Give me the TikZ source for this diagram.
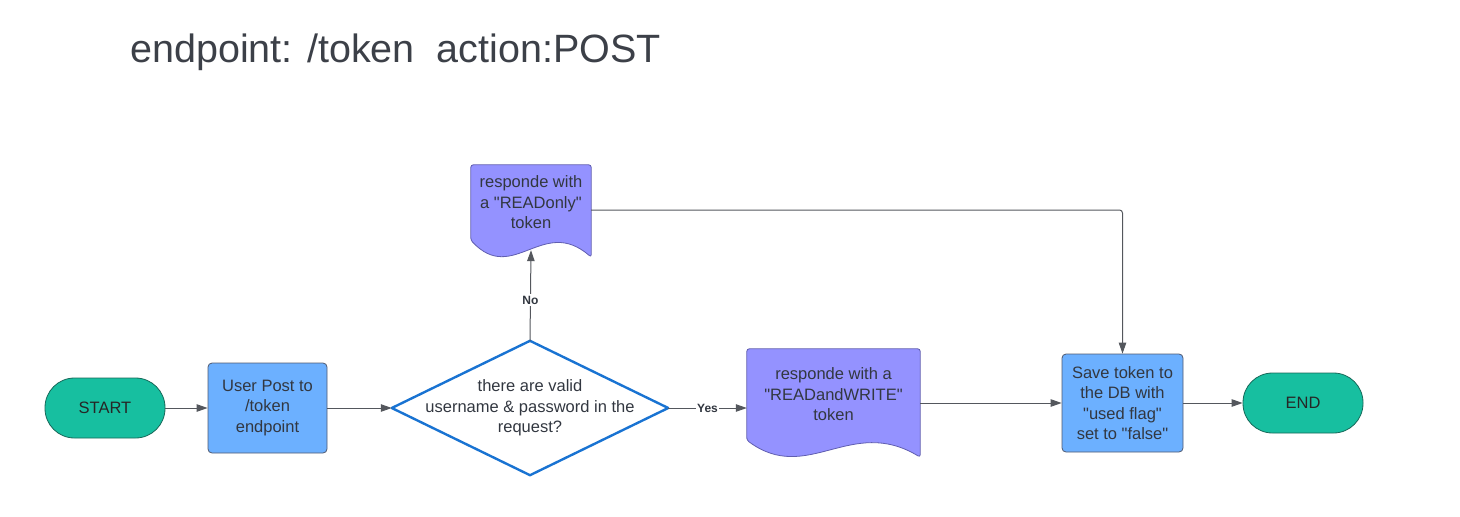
\documentclass[tikz,border=0pt]{standalone}
\usepackage{fontspec}
\setmainfont{Liberation Sans}
\newfontfamily\lsans{Liberation Sans}
\usepackage{xcolor}
\definecolor{tealfl}{RGB}{23, 191, 160}
\definecolor{tealdr}{RGB}{22, 104, 88}
\definecolor{bluefl}{RGB}{108, 176, 255}
\definecolor{bluedr}{RGB}{80, 90, 112}
\definecolor{docfl}{RGB}{148, 146, 255}
\definecolor{docdr}{RGB}{96, 94, 176}
\definecolor{diadr}{RGB}{25, 115, 210}
\definecolor{linecl}{RGB}{84, 87, 93}
\definecolor{txtcl}{RGB}{50, 55, 64}
\definecolor{titlecl}{RGB}{60, 64, 72}
\usepackage{tikz}
\usetikzlibrary{shapes, arrows, positioning, arrows.meta, calc, backgrounds}

\tikzset{
    term/.style={rectangle, rounded corners=29.5pt, fill=tealfl, draw=tealdr, line width=0.8pt,
        minimum width=120pt, minimum height=60pt, text=black!85},
    proc/.style={rectangle, rounded corners=4pt, fill=bluefl, draw=bluedr, line width=0.8pt,
        align=center, inner sep=0pt},
    docbox/.style={rectangle, align=center, inner sep=0pt},
    decision/.style={rectangle, align=center, inner sep=0pt,
        minimum width=276pt, minimum height=134pt},
    conn/.style={draw=linecl, line width=1pt, -{Triangle[length=11pt, width=7.5pt]}},
    lbl/.style={fill=white, inner sep=1.5pt, font=\lsans\bfseries\fontsize{12}{14}\selectfont},
}

% document shape: flat top, wavy bottom
\newcommand{\docshape}[1]{%
    \filldraw[fill=docfl, draw=docdr, line width=0.8pt, rounded corners=2.5pt]
        (#1.south west) -- (#1.north west) -- (#1.north east) -- ($(#1.south east)+(0,17)$)
        .. controls ($(#1.south west)!0.6!(#1.south east)+(0,-25)$)
        and ($(#1.south west)!0.35!(#1.south east)+(0,45)$) .. (#1.south west) -- cycle;}

\begin{document}
\begin{tikzpicture}[x=1pt, y=-1pt, font=\lsans\fontsize{16.5}{20.5}\selectfont, text=txtcl]
    \useasboundingbox (0,0) rectangle (1460,517);

    % Title
    \node[anchor=base west, inner sep=0pt, text=titlecl, font=\lsans\fontsize{39.5}{44}\selectfont]
        (title) at (130,62) {endpoint: /token\ \ action:POST};

    % Flow
    \node[term] (start) at (105,408) {START};
    \node[proc, minimum width=119pt, minimum height=90pt] (post) at (267.5,408) {User Post to\\/token\\endpoint};
    \node[decision] (chk) at (530,408) {there are valid\\username \& password in the\\request?};
    \node[docbox, minimum width=120pt, minimum height=75pt] (ro) at (531,202.5) {responde with\\a "READonly"\\token};
    \node[docbox, minimum width=173pt, minimum height=91pt] (rw) at (833.5,394.5) {responde with a\\"READandWRITE"\\token};
    \node[proc, minimum width=121pt, minimum height=98pt] (save) at (1122.5,403) {Save token to\\the DB with\\"used flag"\\set to "false"};
    \node[term] (end) at (1303,403) {END};

    \begin{scope}[on background layer]
        \docshape{ro}
        \docshape{rw}
    \end{scope}
    \draw[diadr, line width=2.4pt, line join=round] (chk.west) -- (chk.north) -- (chk.east) -- (chk.south) -- cycle;

    % Arrows
    \draw[conn] (start) -- (post);
    \draw[conn] (post) -- (chk.west);
    \draw[conn] (chk.north) -- node[lbl, pos=0.45] {No} ([yshift=-10pt]ro.south);
    \draw[conn] (chk.east) -- node[lbl] {Yes} (chk.east -| rw.west);
    \draw[conn] (rw.east |- save.west) -- (save.west);
    \draw[conn, rounded corners=3pt] ([yshift=-7.5pt]ro.east) -| (save.north);
    \draw[conn] (save) -- (end);
\end{tikzpicture}
\end{document}
